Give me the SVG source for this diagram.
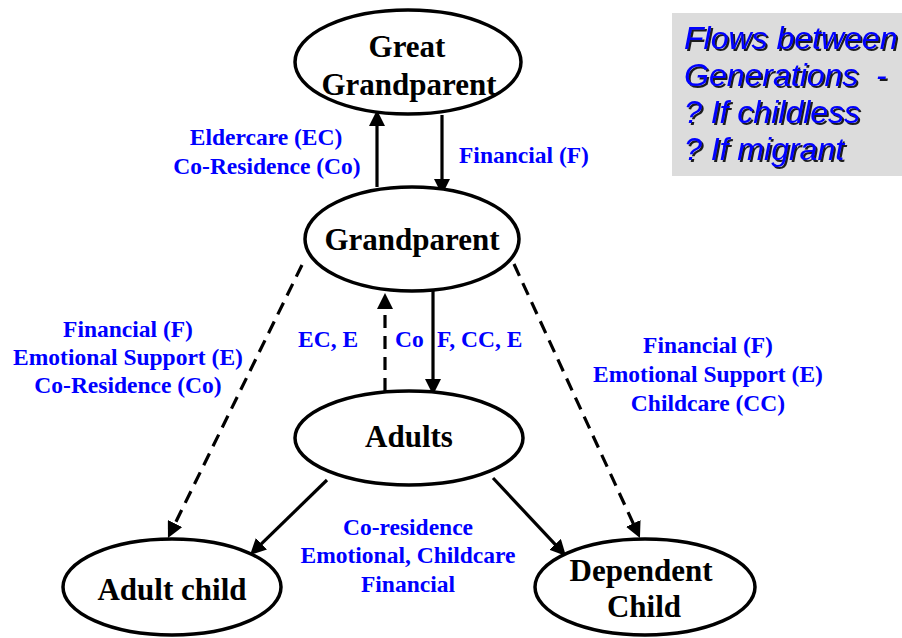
<svg xmlns="http://www.w3.org/2000/svg" width="902" height="638" viewBox="0 0 902 638">
<style>
.node ellipse{fill:#ffffff;stroke:#000000;stroke-width:3.5}
.node text{font-family:"Liberation Serif","Times New Roman",serif;font-weight:bold;font-size:31px;fill:#000000;text-anchor:middle}
.lbl{font-family:"Liberation Serif","Times New Roman",serif;font-weight:bold;font-size:23.5px;fill:#0000ff}
.mid{text-anchor:middle}
.solid{fill:none;stroke:#000000;stroke-width:3.2}
.dash{fill:none;stroke:#000000;stroke-width:3.2;stroke-dasharray:13 8}
.note{font-family:"Liberation Sans",Arial,sans-serif;font-style:italic;font-size:32px;fill:#0000ff;white-space:pre}
</style>
<defs>
<marker id="ah" viewBox="0 0 16 16" refX="8" refY="8" markerWidth="16" markerHeight="16" markerUnits="userSpaceOnUse" orient="auto">
<path d="M0,0 L16,8 L0,16 Z" fill="#000000"/>
</marker>
<filter id="shadow" x="-5%" y="-20%" width="110%" height="140%">
<feDropShadow dx="2" dy="2" stdDeviation="0.3" flood-color="#1a1a1a" flood-opacity="1"/>
</filter>
</defs>

<g id="note">
<rect x="672" y="13" width="230" height="163" fill="#dcdcdc"/>
<g class="note" filter="url(#shadow)">
<text x="684" y="49">Flows between</text>
<text x="684" y="86" xml:space="preserve">Generations  -</text>
<text x="684" y="123">? If childless</text>
<text x="684" y="160">? If migrant</text>
</g>
</g>

<g id="connectors">
<path class="solid" d="M377,187 L377,118" marker-end="url(#ah)"/>
<path class="solid" d="M442,115 L442,187" marker-end="url(#ah)"/>
<path class="dash" d="M385,391 L385,301" marker-end="url(#ah)"/>
<path class="solid" d="M433,290 L433,387" marker-end="url(#ah)"/>
<path class="dash" d="M302,265 L171.5,530.8" marker-end="url(#ah)"/>
<path class="dash" d="M514,264 L636.6,530.7" marker-end="url(#ah)"/>
<path class="solid" d="M327,480 L255.7,549.4" marker-end="url(#ah)"/>
<path class="solid" d="M493,478 L560.5,550.2" marker-end="url(#ah)"/>
</g>

<g id="great-grandparent" class="node">
<ellipse cx="408" cy="62" rx="113" ry="52"/>
<text x="407" y="57">Great</text>
<text x="409" y="95">Grandparent</text>
</g>

<g id="grandparent" class="node">
<ellipse cx="412" cy="239" rx="107" ry="52"/>
<text x="412" y="250">Grandparent</text>
</g>

<g id="adults" class="node">
<ellipse cx="409" cy="438" rx="114" ry="47"/>
<text x="409" y="447">Adults</text>
</g>

<g id="adult-child" class="node">
<ellipse cx="172" cy="587" rx="109" ry="48"/>
<text x="172" y="600">Adult child</text>
</g>

<g id="dependent-child" class="node">
<ellipse cx="645" cy="587" rx="110" ry="48"/>
<text x="641" y="581">Dependent</text>
<text x="644" y="617">Child</text>
</g>

<g id="labels">
<text class="lbl mid" x="266" y="145">Eldercare (EC)</text>
<text class="lbl mid" x="267" y="174">Co-Residence (Co)</text>
<text class="lbl" x="459" y="163">Financial (F)</text>
<text class="lbl mid" x="128" y="337">Financial (F)</text>
<text class="lbl mid" x="128" y="365">Emotional Support (E)</text>
<text class="lbl mid" x="128" y="393">Co-Residence (Co)</text>
<text class="lbl" x="298" y="347">EC, E</text>
<text class="lbl" x="395" y="347">Co</text>
<text class="lbl" x="437" y="347">F, CC, E</text>
<text class="lbl mid" x="708" y="353">Financial (F)</text>
<text class="lbl mid" x="708" y="382">Emotional Support (E)</text>
<text class="lbl mid" x="708" y="411">Childcare (CC)</text>
<text class="lbl mid" x="408" y="535">Co-residence</text>
<text class="lbl mid" x="408" y="563">Emotional, Childcare</text>
<text class="lbl mid" x="408" y="592">Financial</text>
</g>
</svg>
